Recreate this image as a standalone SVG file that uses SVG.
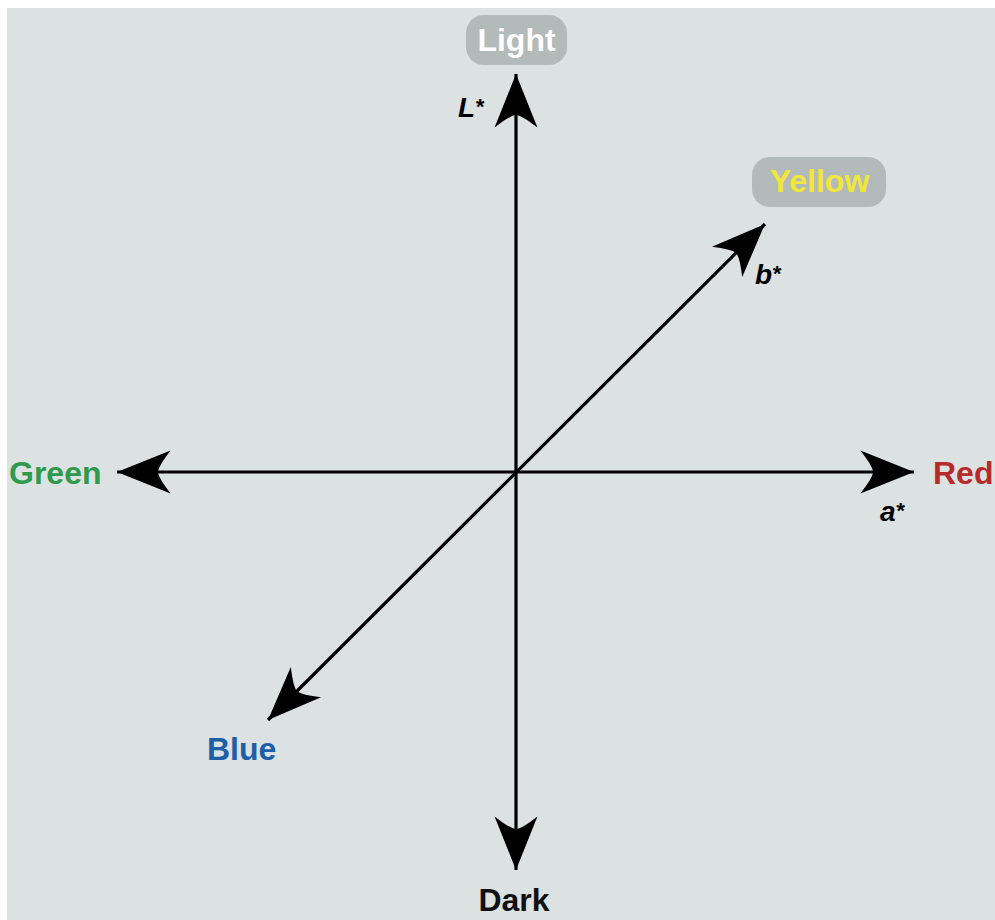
<svg xmlns="http://www.w3.org/2000/svg" width="995" height="920" viewBox="0 0 995 920">
<style>
.lbl{font-family:"Liberation Sans",Arial,Helvetica,sans-serif;font-weight:bold;font-size:32px}
.ax{font-family:"Liberation Sans",Arial,Helvetica,sans-serif;font-weight:bold;font-style:italic;font-size:28px;fill:#000}
.st{font-size:22px}
.axis{stroke:#000;stroke-width:3.2;fill:none}
.pill{fill:#b2baba}
</style>
<defs>
<marker id="ah" markerUnits="userSpaceOnUse" markerWidth="60" markerHeight="50" refX="0" refY="0" viewBox="-52 -22 56 44" orient="auto-start-reverse" overflow="visible">
<path d="M0,0 L-50,-20 Q-39,-6 -38,0 Q-39,6 -50,20 Z" fill="#000"/>
</marker>
</defs>
<rect x="0" y="0" width="995" height="920" fill="#ffffff"/>
<rect x="7" y="8" width="988" height="912" fill="#dce1e1"/>
<g id="connectors">
<line class="axis" x1="516" y1="870" x2="516" y2="74" marker-start="url(#ah)" marker-end="url(#ah)"/>
<line class="axis" x1="117" y1="472" x2="914" y2="472" marker-start="url(#ah)" marker-end="url(#ah)"/>
<line class="axis" x1="268" y1="720" x2="765" y2="224" marker-start="url(#ah)" marker-end="url(#ah)"/>
</g>
<g id="light">
<rect class="pill" x="466" y="15" width="101" height="50" rx="18"/>
<text class="lbl" x="516.5" y="51" text-anchor="middle" fill="#ffffff">Light</text>
</g>
<g id="yellow">
<rect class="pill" x="752" y="157" width="134" height="50" rx="18"/>
<text class="lbl" x="819.5" y="192" text-anchor="middle" fill="#f3e63a">Yellow</text>
</g>
<g id="green">
<text class="lbl" x="9" y="484" fill="#2e9a4c">Green</text>
</g>
<g id="red">
<text class="lbl" x="933" y="484" fill="#b8292b">Red</text>
</g>
<g id="blue">
<text class="lbl" x="207" y="760" fill="#1d5ea8">Blue</text>
</g>
<g id="dark">
<text class="lbl" x="514" y="911" text-anchor="middle" fill="#111111">Dark</text>
</g>
<g id="axis-labels">
<text class="ax" x="458" y="117">L<tspan class="st" dy="-3">*</tspan></text>
<text class="ax" x="755" y="284">b<tspan class="st" dy="-3">*</tspan></text>
<text class="ax" x="880" y="521">a<tspan class="st" dy="-3">*</tspan></text>
</g>
</svg>
